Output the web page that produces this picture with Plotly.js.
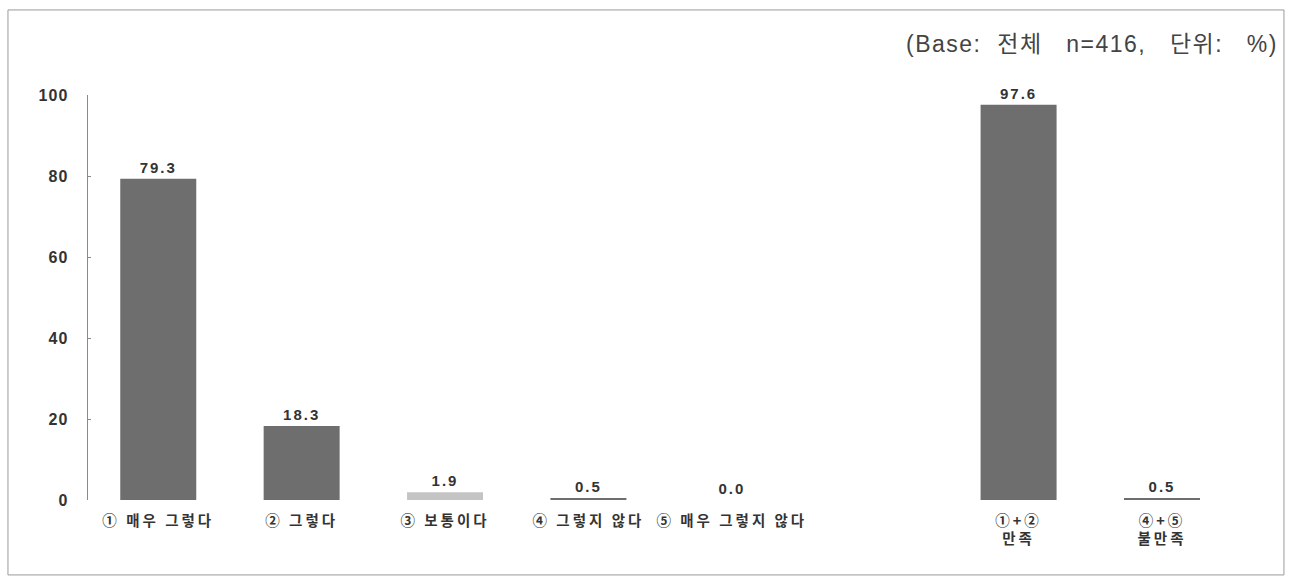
<!DOCTYPE html>
<html>
<head>
<meta charset="utf-8">
<script src="https://cdn.plot.ly/plotly-3.0.1.min.js"></script>
<style>
html,body{margin:0;padding:0;background:#fff;}
#chart{width:1293px;height:582px;}
.xtick text{letter-spacing:3px;}
.ytick text{letter-spacing:1px;}
text.bartext{letter-spacing:2px;}
text.annotation-text{letter-spacing:1.5px;}
</style>
</head>
<body>
<div id="chart"></div>
<script>
// Data
const categories = ["① 매우 그렇다", "② 그렇다", "③ 보통이다", "④ 그렇지 않다", "⑤ 매우 그렇지 않다", " ", "①+②<br>만족", "④+⑤<br>불만족"];
const values = [79.3, 18.3, 1.9, 0.5, 0.0, null, 97.6, 0.5];
const valueLabels = ["79.3", "18.3", "1.9", "0.5", "0.0", "", "97.6", "0.5"];
const barColors = ["#6e6e6e", "#6e6e6e", "#c4c4c4", "#6e6e6e", "#6e6e6e", "#6e6e6e", "#6e6e6e", "#6e6e6e"];
const yTicks = [0, 20, 40, 60, 80, 100];
const noteText = "(Base:\u00a0 전체\u00a0\u00a0 n=416,\u00a0\u00a0 단위:\u00a0\u00a0 %)";

const trace = {
  type: "bar",
  x: categories,
  y: values,
  text: valueLabels,
  textposition: "outside",
  cliponaxis: false,
  textfont: {family: "Liberation Sans, Arial, sans-serif", size: 15, color: "#333", weight: 700},
  marker: {color: barColors, line: {width: 0}},
  width: 0.53,
  hoverinfo: "x+y"
};

const layout = {
  width: 1293, height: 582,
  margin: {l: 88, r: 45, t: 95, b: 82},
  paper_bgcolor: "#fff", plot_bgcolor: "#fff",
  showlegend: false,
  font: {family: "Noto Sans CJK KR, sans-serif", color: "#333"},
  xaxis: {
    type: "category",
    categoryorder: "array",
    categoryarray: categories,
    range: [-0.49, 7.6],
    showline: false, showgrid: false, zeroline: false,
    ticks: "",
    ticklabelstandoff: 10,
    tickfont: {family: "Noto Sans CJK KR, sans-serif", size: 14.5, color: "#333", weight: 700}
  },
  yaxis: {
    range: [0, 100],
    tickvals: yTicks,
    ticktext: yTicks.map(String),
    showline: true, linecolor: "#8a8a8a", linewidth: 1.5,
    ticks: "inside", ticklen: 3, tickcolor: "#8a8a8a",
    showgrid: false, zeroline: false,
    ticklabelstandoff: 15,
    tickfont: {family: "Liberation Sans, Arial, sans-serif", size: 16, color: "#333", weight: 700}
  },
  annotations: [{
    xref: "paper", yref: "paper",
    x: 1.028, y: 1.125, xanchor: "right", yanchor: "middle",
    text: noteText, showarrow: false,
    font: {family: "Liberation Sans, Noto Sans CJK KR, sans-serif", size: 23, color: "#444"}
  }],
  shapes: [{
    type: "rect", xref: "paper", yref: "paper",
    x0: -0.069, x1: 1.031, y0: -0.185, y1: 1.21,
    line: {color: "#9a9a9a", width: 1}, fillcolor: "rgba(0,0,0,0)", layer: "below"
  }]
};

Plotly.newPlot("chart", [trace], layout, {displayModeBar: false, staticPlot: true});
</script>
</body>
</html>
